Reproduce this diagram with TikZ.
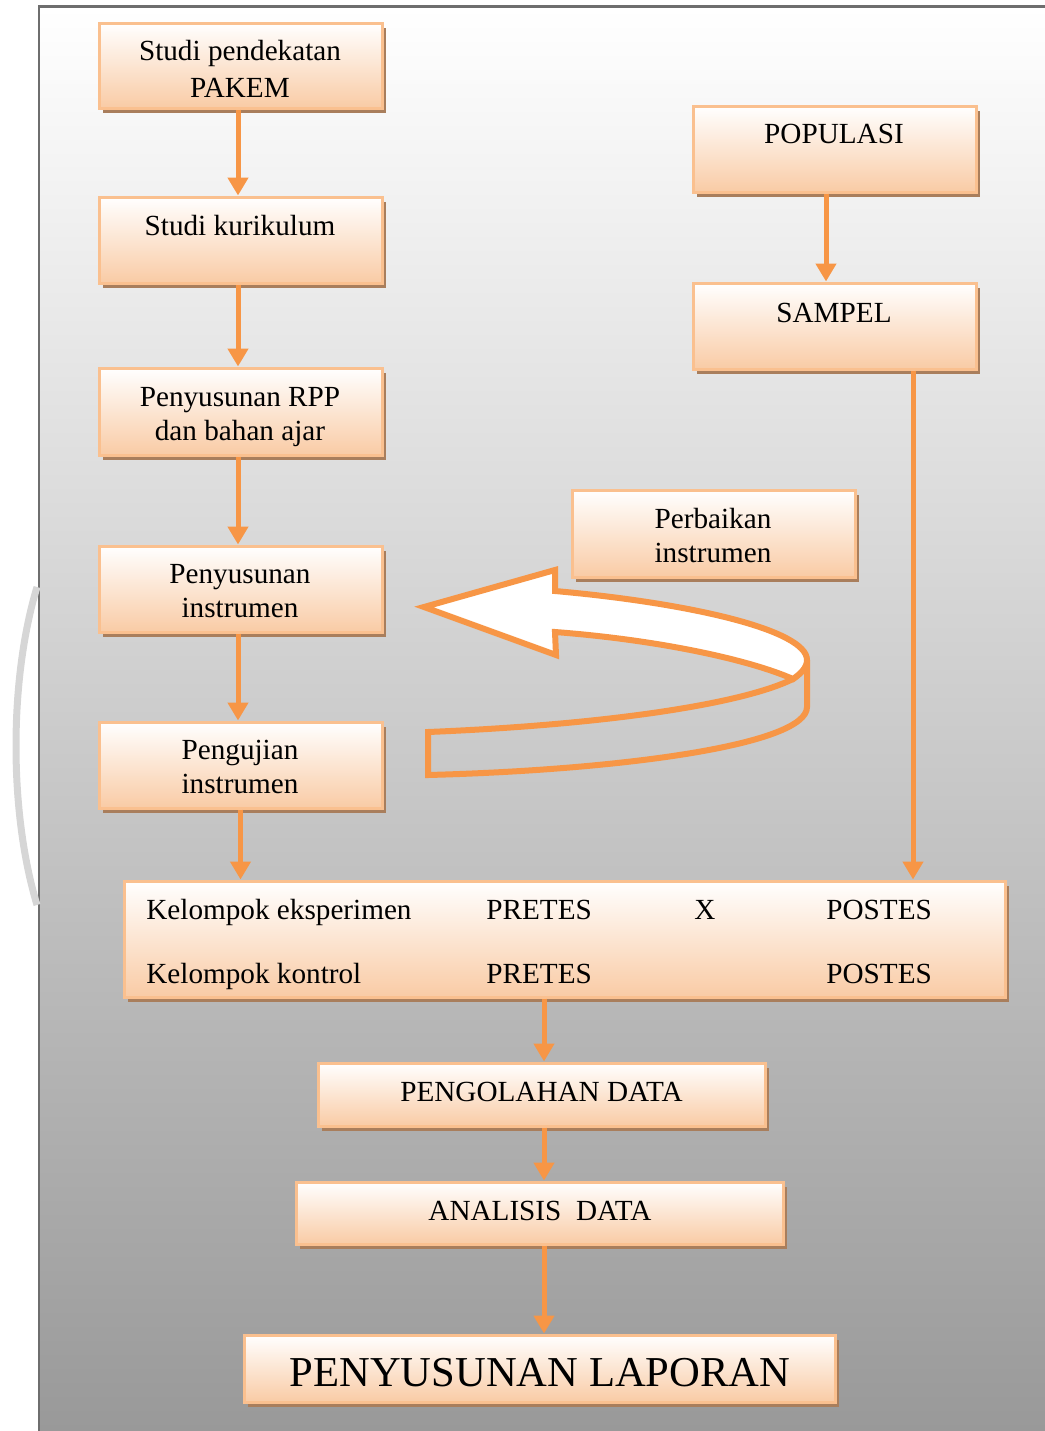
\documentclass[tikz,border=0pt]{standalone}
\usepackage{fontspec}
\setmainfont{Liberation Serif}
\usetikzlibrary{shadows,arrows.meta}
\definecolor{orng}{HTML}{F79646}
\definecolor{bdr}{HTML}{FAC08F}
\definecolor{peach}{HTML}{F9CBA5}
\definecolor{shd}{HTML}{A97E5C}
\definecolor{bgmid}{HTML}{D3D3D3}
\definecolor{bgbot}{HTML}{999999}
\definecolor{frm}{HTML}{6E6E6E}
\definecolor{arcg}{HTML}{D6D6D6}
\begin{document}
\begin{tikzpicture}[x=0.5pt,y=-0.5pt,
 box/.style={draw=bdr, line width=1.5pt, top color=white, bottom color=peach, inner sep=0pt,
   drop shadow={shadow xshift=2pt, shadow yshift=-2.5pt, fill=shd, opacity=1}},
 txt/.style={font=\fontsize{14.6}{17}\selectfont, inner sep=0pt, anchor=base},
 txtl/.style={txt, anchor=base west},
 conn/.style={draw=orng, line width=2.5pt, -{Triangle[width=10pt,length=9pt]}},
 ribbon/.style={draw=orng, line width=3pt, line join=miter}
 ]
\useasboundingbox (0,0) rectangle (1045,1431);
% background frame
\shade[top color=white, middle color=bgmid, bottom color=bgbot] (39,6.5) rectangle (1045,1431);
\draw[frm, line width=1.25pt] (39,1440) -- (39,6.5) -- (1050,6.5);
\draw[arcg, line width=3.5pt] (37,587) .. controls (9,680) and (9,812) .. (37,905);

% boxes
\node[box, minimum width=141.5pt, minimum height=42.5pt] (b1) at (240.5,65.5) {};
\node[box, minimum width=141.5pt, minimum height=43pt] (b2) at (240.5,240) {};
\node[box, minimum width=141.5pt, minimum height=43.5pt] (b3) at (240.5,411.5) {};
\node[box, minimum width=141.5pt, minimum height=43pt] (b4) at (240.5,589) {};
\node[box, minimum width=141.5pt, minimum height=43pt] (b5) at (240.5,765) {};
\node[box, minimum width=141.5pt, minimum height=43pt] (pop) at (834.5,149) {};
\node[box, minimum width=141.5pt, minimum height=43pt] (smp) at (834.5,326) {};
\node[box, minimum width=141.5pt, minimum height=43.5pt] (perb) at (713.5,533.5) {};
\node[box, minimum width=440.5pt, minimum height=58pt] (big) at (564.5,939) {};
\node[box, minimum width=223.5pt, minimum height=31.5pt] (peng) at (541.5,1094.5) {};
\node[box, minimum width=243.5pt, minimum height=31pt] (anl) at (539.5,1213) {};
\node[box, minimum width=295.5pt, minimum height=33.5pt] (lap) at (539.5,1368.5) {};

% texts
\node[txt] (t1a) at (240,60) {Studi pendekatan};
\node[txt] (t1b) at (240,97) {PAKEM};
\node[txt] (t2) at (240,235) {Studi kurikulum};
\node[txt] (t3a) at (240,406) {Penyusunan RPP};
\node[txt] (t3b) at (240,440) {dan bahan ajar};
\node[txt] (t4a) at (240,583) {Penyusunan};
\node[txt] (t4b) at (240,617) {instrumen};
\node[txt] (t5a) at (240,759) {Pengujian};
\node[txt] (t5b) at (240,793) {instrumen};
\node[txt] (tpop) at (834,143) {POPULASI};
\node[txt] (tsmp) at (834,322) {SAMPEL};
\node[txt] (tpa) at (713,528) {Perbaikan};
\node[txt] (tpb) at (713,562) {instrumen};
\node[txtl] (k1) at (146,919) {Kelompok eksperimen};
\node[txtl] (p1) at (486,919) {PRETES};
\node[txtl] (x1) at (694,919) {X};
\node[txtl] (q1) at (826,919) {POSTES};
\node[txtl] (k2) at (146,983) {Kelompok kontrol};
\node[txtl] (p2) at (486,983) {PRETES};
\node[txtl] (q2) at (826,983) {POSTES};
\node[txt] (tpeng) at (541.5,1101) {PENGOLAHAN DATA};
\node[txt] (tanl) at (540,1220) {ANALISIS\ \ DATA};
\node[txt, font=\fontsize{21.3}{25}\selectfont] (tlap) at (540,1386) {PENYUSUNAN LAPORAN};

% connectors
\coordinate (c544) at (544,0);
\coordinate (c913) at (913,0);
\coordinate (c238) at (238,0);
\draw[conn] (b1.south -| c238) -- (b2.north -| c238);
\draw[conn] (b2.south -| c238) -- (b3.north -| c238);
\draw[conn] (b3.south -| c238) -- (b4.north -| c238);
\draw[conn] (b4.south -| c238) -- (b5.north -| c238);
\draw[conn] (b5.south) -- (b5.south |- big.north);
\draw[conn] (pop.south -| 826,0) -- (smp.north -| 826,0);
\draw[conn] (smp.south -| c913) -- (big.north -| c913);
\draw[conn] (big.south -| c544) -- (peng.north -| c544);
\draw[conn] (peng.south -| c544) -- (anl.north -| c544);
\draw[conn] (anl.south -| c544) -- (lap.north -| c544);

% curved block arrow (lower band)
\draw[ribbon] (428,732) .. controls (600,725) and (740,705) .. (793,679)
  .. controls (800,674) and (807,668) .. (807,660) -- (807,707)
  .. controls (807,745) and (620,770) .. (428,775) -- cycle;
% upper band with head
\draw[ribbon, fill=white] (424,607) -- (555,570) -- (555,591)
  .. controls (690,603) and (807,630) .. (807,660)
  .. controls (807,668) and (800,674) .. (793,679)
  .. controls (750,660) and (660,640) .. (555,632)
  -- (556,655) -- cycle;
\end{tikzpicture}
\end{document}
